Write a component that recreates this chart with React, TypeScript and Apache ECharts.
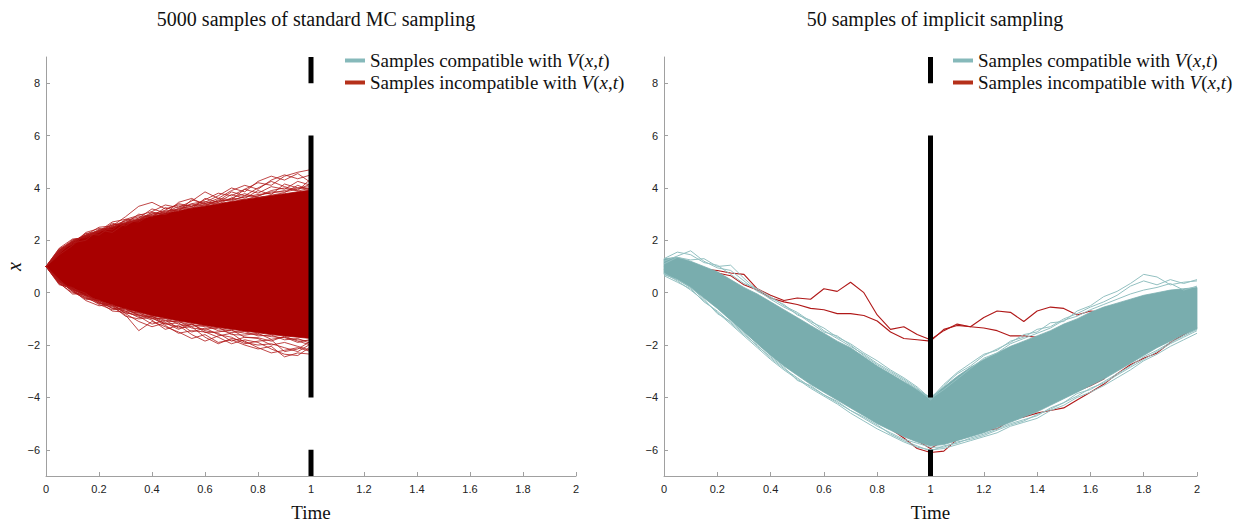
import React, { useEffect, useRef } from 'react';
import * as echarts from 'echarts';

const COMPAT = 'Samples compatible with V(x,t)';
const INCOMPAT = 'Samples incompatible with V(x,t)';

const LEFT_TITLE = '5000 samples of standard MC sampling';
const RIGHT_TITLE = '50 samples of implicit sampling';

const X_TICKS_MIN = 0;
const X_TICKS_MAX = 2;
const X_TICK_STEP = 0.2;
const Y_MIN = -7;
const Y_MAX = 9;
const Y_TICKS = [-6, -4, -2, 0, 2, 4, 6, 8];

// obstacle at t = 1 : [from, to] in x
const BAR_T = 1;
const BAR_SEGMENTS = [
  [9, 8],
  [6, -4],
  [-6, -7],
];

// time grids
const T1 = [0, 0.05, 0.1, 0.15, 0.2, 0.25, 0.3, 0.35, 0.4, 0.45, 0.5, 0.55, 0.6, 0.65, 0.7, 0.75, 0.8, 0.85, 0.9, 0.95, 1];
const T2 = [0, 0.05, 0.1, 0.15, 0.2, 0.25, 0.3, 0.35, 0.4, 0.45, 0.5, 0.55, 0.6, 0.65, 0.7, 0.75, 0.8, 0.85, 0.9, 0.95, 1,
  1.05, 1.1, 1.15, 1.2, 1.25, 1.3, 1.35, 1.4, 1.45, 1.5, 1.55, 1.6, 1.65, 1.7, 1.75, 1.8, 1.85, 1.9, 1.95, 2];

// ---- left panel: MC cloud (dense envelope) ----
const MC_HI = [1.0, 1.62, 1.95, 2.18, 2.36, 2.52, 2.67, 2.8, 2.92, 3.03, 3.13, 3.23, 3.31, 3.4, 3.48, 3.56, 3.64, 3.71, 3.78, 3.85, 3.92];
const MC_LO = [1.0, 0.42, 0.12, -0.12, -0.3, -0.47, -0.62, -0.75, -0.88, -0.98, -1.08, -1.16, -1.25, -1.33, -1.4, -1.47, -1.53, -1.6, -1.65, -1.7, -1.75];

// fringe paths of the MC cloud
const MC_UP_1 = [1.0, 1.55, 1.95, 2.2, 2.5, 2.55, 2.9, 3.3, 3.45, 3.2, 3.35, 3.3, 3.55, 3.8, 3.7, 3.95, 4.2, 4.1, 4.45, 4.6, 4.7];
const MC_UP_2 = [1.0, 1.7, 2.05, 2.1, 2.35, 2.7, 2.8, 2.95, 3.1, 3.35, 3.25, 3.5, 3.85, 3.6, 3.9, 4.1, 3.95, 4.3, 4.5, 4.35, 4.5];
const MC_UP_3 = [1.0, 1.45, 1.8, 2.25, 2.2, 2.55, 2.75, 2.7, 3.0, 3.15, 3.4, 3.3, 3.45, 3.7, 4.0, 3.85, 4.25, 4.45, 4.3, 4.55, 4.2];
const MC_UP_4 = [1.0, 1.6, 1.9, 2.0, 2.4, 2.3, 2.65, 3.0, 2.9, 3.25, 3.1, 3.55, 3.4, 3.6, 3.55, 3.95, 3.8, 4.05, 3.95, 4.25, 4.1];
const MC_UP_5 = [1.0, 1.5, 2.0, 2.15, 2.3, 2.65, 2.55, 2.85, 3.2, 3.05, 3.3, 3.2, 3.6, 3.45, 3.75, 3.6, 3.9, 3.75, 4.15, 4.0, 3.95];
const MC_UP_6 = [1.0, 1.65, 1.85, 2.3, 2.45, 2.4, 2.8, 2.75, 3.05, 3.0, 3.45, 3.6, 3.35, 3.5, 3.85, 3.7, 4.0, 4.25, 4.05, 3.9, 4.35];
const MC_UP_7 = [1.0, 1.58, 1.98, 2.18, 2.38, 2.5, 2.7, 2.85, 2.95, 3.1, 3.2, 3.3, 3.4, 3.5, 3.55, 3.65, 3.75, 3.8, 3.9, 4.0, 4.05];
const MC_UP_8 = [1.0, 1.68, 1.95, 2.2, 2.32, 2.58, 2.65, 2.8, 3.0, 3.05, 3.18, 3.25, 3.35, 3.45, 3.6, 3.55, 3.7, 3.85, 3.85, 3.95, 4.15];
const MC_UP_9 = [1.0, 1.63, 2.02, 2.14, 2.42, 2.48, 2.75, 2.9, 2.92, 3.12, 3.15, 3.38, 3.3, 3.55, 3.5, 3.7, 3.68, 3.9, 4.0, 3.88, 4.0];
const MC_UP_10 = [1.0, 1.52, 1.92, 2.26, 2.35, 2.6, 2.62, 2.78, 3.08, 2.98, 3.22, 3.4, 3.48, 3.38, 3.62, 3.78, 3.62, 3.72, 3.82, 4.1, 3.9];
const MC_DN_1 = [1.0, 0.4, 0.1, -0.2, -0.4, -0.55, -0.85, -1.45, -1.1, -1.3, -1.5, -1.75, -1.6, -1.9, -1.8, -2.0, -2.15, -2.05, -2.45, -2.3, -2.35];
const MC_DN_2 = [1.0, 0.35, 0.0, -0.1, -0.35, -0.7, -0.75, -0.9, -1.2, -1.05, -1.35, -1.3, -1.7, -1.95, -1.75, -1.85, -2.1, -2.3, -2.2, -2.1, -2.25];
const MC_DN_3 = [1.0, 0.5, 0.05, -0.25, -0.3, -0.5, -0.9, -1.0, -0.95, -1.25, -1.55, -1.45, -1.5, -1.7, -1.95, -1.8, -1.9, -2.15, -2.35, -2.4, -2.05];
const MC_DN_4 = [1.0, 0.3, 0.2, -0.15, -0.45, -0.65, -0.6, -0.85, -1.05, -1.4, -1.25, -1.6, -1.85, -1.65, -1.55, -1.9, -2.0, -1.95, -2.1, -2.25, -1.95];
const MC_DN_5 = [1.0, 0.45, 0.1, -0.3, -0.5, -0.45, -0.8, -1.1, -1.3, -1.15, -1.4, -1.2, -1.45, -1.55, -1.85, -1.7, -1.75, -2.0, -1.9, -2.05, -2.2];
const MC_DN_6 = [1.0, 0.38, -0.05, -0.05, -0.35, -0.6, -0.7, -0.95, -0.9, -1.2, -1.15, -1.5, -1.35, -1.6, -1.7, -1.95, -1.85, -1.8, -2.25, -2.15, -1.85];
const MC_DN_7 = [1.0, 0.42, 0.08, -0.18, -0.32, -0.52, -0.66, -0.8, -0.92, -1.05, -1.12, -1.22, -1.3, -1.38, -1.45, -1.55, -1.6, -1.68, -1.72, -1.8, -1.85];
const MC_DN_8 = [1.0, 0.36, 0.12, -0.12, -0.38, -0.48, -0.72, -0.76, -1.0, -0.98, -1.2, -1.28, -1.25, -1.45, -1.52, -1.48, -1.65, -1.62, -1.8, -1.75, -1.95];
const MC_DN_9 = [1.0, 0.46, 0.04, -0.22, -0.28, -0.6, -0.62, -0.88, -0.9, -1.12, -1.08, -1.35, -1.4, -1.32, -1.6, -1.62, -1.55, -1.78, -1.7, -1.9, -1.78];
const MC_DN_10 = [1.0, 0.33, 0.16, -0.02, -0.42, -0.45, -0.78, -0.84, -0.98, -1.18, -1.3, -1.18, -1.52, -1.5, -1.42, -1.7, -1.72, -1.85, -1.66, -1.85, -2.0];

// ---- right panel: implicit sampling band ----
const IS_HI = [1.3, 1.35, 1.2, 1.0, 0.8, 0.5, 0.2, -0.05, -0.35, -0.65, -0.95, -1.25, -1.55, -1.85, -2.1, -2.45, -2.8, -3.1, -3.4, -3.7, -4.0,
  -3.6, -3.2, -2.85, -2.55, -2.3, -2.05, -1.85, -1.65, -1.45, -1.2, -1.0, -0.75, -0.55, -0.4, -0.25, -0.1, 0.0, 0.1, 0.15, 0.2];
const IS_LO = [0.7, 0.5, 0.2, -0.2, -0.6, -1.05, -1.5, -1.95, -2.4, -2.8, -3.15, -3.5, -3.8, -4.1, -4.4, -4.7, -5.0, -5.25, -5.5, -5.7, -5.85,
  -5.8, -5.65, -5.5, -5.35, -5.15, -4.95, -4.75, -4.55, -4.3, -4.05, -3.8, -3.55, -3.3, -3.0, -2.7, -2.4, -2.1, -1.85, -1.6, -1.4];

const IS_UP_1 = [1.3, 1.55, 1.45, 1.15, 1.05, 0.7, 0.35, 0.15, -0.15, -0.5, -0.75, -1.1, -1.35, -1.7, -1.95, -2.3, -2.6, -2.95, -3.25, -3.6, -4.05,
  -3.5, -3.05, -2.7, -2.35, -2.2, -1.85, -1.7, -1.4, -1.3, -1.0, -0.8, -0.55, -0.35, -0.1, 0.25, 0.45, 0.3, 0.5, 0.35, 0.5];
const IS_UP_2 = [1.2, 1.4, 1.6, 1.2, 0.95, 0.85, 0.45, 0.05, -0.2, -0.45, -0.85, -1.05, -1.45, -1.75, -2.05, -2.35, -2.7, -3.0, -3.3, -3.65, -4.1,
  -3.55, -3.1, -2.8, -2.4, -2.15, -1.9, -1.6, -1.5, -1.15, -1.1, -0.7, -0.5, -0.15, 0.05, 0.35, 0.7, 0.6, 0.3, 0.4, 0.45];
const IS_UP_3 = [1.1, 1.35, 1.25, 1.3, 1.0, 1.05, 0.55, 0.1, -0.25, -0.55, -0.8, -1.15, -1.5, -1.65, -2.0, -2.4, -2.75, -3.05, -3.35, -3.7, -4.05,
  -3.7, -3.3, -2.9, -2.5, -2.3, -1.95, -1.75, -1.55, -1.35, -1.05, -0.9, -0.65, -0.45, -0.25, -0.05, 0.1, 0.2, 0.35, 0.1, 0.25];
const IS_DN_1 = [0.75, 0.45, 0.1, -0.3, -0.75, -1.2, -1.65, -2.1, -2.55, -2.95, -3.3, -3.65, -3.95, -4.25, -4.6, -4.9, -5.2, -5.45, -5.7, -5.9, -6.0,
  -5.95, -5.8, -5.65, -5.5, -5.35, -5.1, -4.95, -4.8, -4.5, -4.3, -4.0, -3.8, -3.55, -3.25, -2.95, -2.6, -2.35, -2.05, -1.8, -1.55];
const IS_DN_2 = [0.65, 0.4, 0.15, -0.35, -0.7, -1.15, -1.6, -2.0, -2.5, -2.9, -3.25, -3.6, -3.9, -4.2, -4.5, -4.8, -5.1, -5.35, -5.6, -5.75, -5.9,
  -5.9, -5.7, -5.6, -5.45, -5.25, -5.05, -4.9, -4.65, -4.45, -4.2, -3.95, -3.65, -3.45, -3.15, -2.85, -2.55, -2.25, -1.95, -1.7, -1.45];
const IS_DN_3 = [0.7, 0.5, 0.2, -0.25, -0.8, -1.1, -1.55, -2.05, -2.45, -2.85, -3.35, -3.55, -3.9, -4.15, -4.5, -4.75, -5.05, -5.4, -5.65, -5.85, -6.05,
  -5.85, -5.75, -5.55, -5.4, -5.2, -5.0, -4.85, -4.7, -4.4, -4.2, -3.85, -3.7, -3.4, -3.1, -2.8, -2.45, -2.2, -1.9, -1.65, -1.4];

// incompatible implicit samples (red)
const RED_A = [1.2, 1.15, 1.0, 0.9, 0.85, 0.75, 0.7, 0.15, -0.1, -0.3, -0.2, -0.25, 0.15, 0.05, 0.4, 0.0, -0.85, -1.4, -1.3, -1.6, -1.8,
  -1.45, -1.2, -1.3, -0.95, -0.7, -0.75, -1.1, -0.7, -0.55, -0.6, -0.85, -0.7, -0.75, -0.5, -0.3, -0.2, -0.1, -0.05, 0.05, 0.1];
const RED_B = [1.1, 1.2, 1.0, 0.85, 0.75, 0.65, 0.3, 0.1, -0.2, -0.35, -0.45, -0.6, -0.65, -0.8, -0.8, -0.87, -1.08, -1.5, -1.75, -1.8, -1.85,
  -1.4, -1.25, -1.3, -1.35, -1.45, -1.65, -1.65, -1.7, -1.75, -1.7, -1.65, -1.5, -1.3, -1.15, -0.95, -0.7, -0.6, -0.45, -0.3, -0.25];
const RED_C = [1.0, 0.8, 0.5, 0.1, -0.35, -0.8, -1.2, -1.6, -2.1, -2.55, -2.9, -3.1, -3.3, -3.55, -3.95, -4.45, -4.85, -5.2, -5.55, -5.95, -6.1,
  -6.05, -5.6, -5.3, -5.25, -5.2, -4.85, -4.4, -4.35, -4.1, -3.9, -3.75, -3.55, -3.3, -2.6, -2.0, -1.9, -1.6, -1.35, -1.05, -0.9];
const RED_D = [0.9, 0.7, 0.45, 0.0, -0.4, -0.9, -1.35, -1.8, -2.25, -2.6, -2.9, -3.15, -3.0, -3.3, -3.55, -3.95, -4.35, -4.8, -5.25, -5.65, -5.95,
  -5.65, -5.3, -4.6, -4.55, -4.65, -4.7, -4.75, -4.6, -4.5, -4.4, -4.1, -3.8, -3.5, -3.1, -2.75, -2.5, -2.3, -1.9, -1.6, -1.3];

const RED_DENSE = '#a80000';
const RED_LINE = '#b01818';
const RED_LEGEND = '#b5301a';
const TEAL = '#79adae';
const TEAL_LINE = '#93c0c1';
const TEAL_LEGEND = '#86b9ba';
const AXIS_GRAY = '#a0a0a0';
const SERIF = '"Liberation Serif", "DejaVu Serif", serif';
const SANS = '"Liberation Sans", Arial, sans-serif';

function pairs(ts: number[], vs: number[]) {
  return ts.map((t, i) => [t, vs[i]]);
}

function band(name: string, ts: number[], hi: number[], lo: number[], color: string, axis: number) {
  return {
    type: 'custom',
    name,
    xAxisIndex: axis,
    yAxisIndex: axis,
    silent: true,
    z: 2,
    itemStyle: { color },
    data: [[ts[0], hi[0]]],
    renderItem: (_p: any, api: any) => {
      const pts: number[][] = [];
      for (let i = 0; i < ts.length; i++) pts.push(api.coord([ts[i], hi[i]]));
      for (let i = ts.length - 1; i >= 0; i--) pts.push(api.coord([ts[i], lo[i]]));
      return { type: 'polygon', shape: { points: pts }, style: { fill: color, stroke: color, lineWidth: 0.8 } };
    },
  };
}

function path(name: string, ts: number[], vs: number[], color: string, axis: number, width = 0.8, z = 3) {
  return {
    type: 'line',
    name,
    xAxisIndex: axis,
    yAxisIndex: axis,
    silent: true,
    showSymbol: false,
    symbol: 'none',
    z,
    lineStyle: { color, width },
    data: pairs(ts, vs),
  };
}

function bars(axis: number) {
  return BAR_SEGMENTS.map((seg, i) => ({
    type: 'line',
    name: 'obstacle' + axis + '_' + i,
    xAxisIndex: axis,
    yAxisIndex: axis,
    silent: true,
    showSymbol: false,
    symbol: 'none',
    z: 10,
    lineStyle: { color: '#000', width: 5, cap: 'butt' },
    data: [[BAR_T, seg[0]], [BAR_T, seg[1]]],
  }));
}

function xAxis(grid: number) {
  return {
    type: 'value',
    gridIndex: grid,
    min: X_TICKS_MIN,
    max: X_TICKS_MAX,
    interval: X_TICK_STEP,
    name: 'Time',
    nameLocation: 'middle',
    nameGap: 27,
    nameTextStyle: { fontFamily: SERIF, fontSize: 19, color: '#111' },
    axisLine: { show: true, onZero: false, lineStyle: { color: AXIS_GRAY, width: 1 } },
    axisTick: { show: true, inside: true, length: 4, lineStyle: { color: AXIS_GRAY } },
    axisLabel: { fontFamily: SANS, fontSize: 11, color: '#222', margin: 7 },
    splitLine: { show: false },
  };
}

function yAxis(grid: number, withName: boolean) {
  return {
    type: 'value',
    gridIndex: grid,
    min: Y_MIN,
    max: Y_MAX,
    name: withName ? 'x' : '',
    nameLocation: 'middle',
    nameGap: 22,
    nameRotate: 90,
    nameTextStyle: { fontFamily: SERIF, fontSize: 20, fontStyle: 'italic', color: '#111' },
    axisLine: { show: true, onZero: false, lineStyle: { color: AXIS_GRAY, width: 1 } },
    axisTick: { show: true, inside: true, length: 4, customValues: Y_TICKS, lineStyle: { color: AXIS_GRAY } },
    axisLabel: {
      fontFamily: SANS, fontSize: 11, color: '#222', margin: 6, customValues: Y_TICKS,
      formatter: (v: number) => (v < 0 ? '\u2212' + Math.abs(v) : String(v)),
    },
    splitLine: { show: false },
  };
}

function legend(left: number) {
  return {
    orient: 'vertical',
    left,
    top: 46,
    itemGap: 3,
    itemWidth: 20,
    itemHeight: 4,
    icon: 'rect',
    selectedMode: false,
    data: [
      { name: COMPAT, itemStyle: { color: TEAL_LEGEND } },
      { name: INCOMPAT, itemStyle: { color: RED_LEGEND } },
    ],
    formatter: (name: string) => name.replace('V(x,t)', '{i|V}({i|x},{i|t})'),
    textStyle: {
      fontFamily: SERIF, fontSize: 19, color: '#111',
      rich: { i: { fontFamily: SERIF, fontSize: 19, fontStyle: 'italic', color: '#111' } },
    },
  };
}

const MC_UPS = [MC_UP_1, MC_UP_2, MC_UP_3, MC_UP_4, MC_UP_5, MC_UP_6, MC_UP_7, MC_UP_8, MC_UP_9, MC_UP_10];
const MC_DNS = [MC_DN_1, MC_DN_2, MC_DN_3, MC_DN_4, MC_DN_5, MC_DN_6, MC_DN_7, MC_DN_8, MC_DN_9, MC_DN_10];
const IS_UPS = [IS_UP_1, IS_UP_2, IS_UP_3];
const IS_DNS = [IS_DN_1, IS_DN_2, IS_DN_3];
const REDS = [RED_A, RED_B, RED_C, RED_D];

export default function App() {
  const ref = useRef<HTMLDivElement>(null);
  useEffect(() => {
    const chart = echarts.init(ref.current!, null, { renderer: 'svg' });
    const series: any[] = [];
    // left panel
    series.push(band(INCOMPAT, T1, MC_HI, MC_LO, RED_DENSE, 0));
    MC_UPS.forEach((v, i) => series.push(path('mc_up_' + i, T1, v, RED_LINE, 0)));
    MC_DNS.forEach((v, i) => series.push(path('mc_dn_' + i, T1, v, RED_LINE, 0)));
    series.push(...bars(0));
    // right panel
    REDS.forEach((v, i) => series.push(path('is_red_' + i, T2, v, RED_LINE, 1, 1.1, 1)));
    series.push(band(COMPAT, T2, IS_HI, IS_LO, TEAL, 1));
    IS_UPS.forEach((v, i) => series.push(path('is_up_' + i, T2, v, TEAL_LINE, 1, 1)));
    IS_DNS.forEach((v, i) => series.push(path('is_dn_' + i, T2, v, TEAL_LINE, 1, 1)));
    series.push(...bars(1));

    chart.setOption({
      animation: false,
      backgroundColor: '#fff',
      title: [
        { text: LEFT_TITLE, left: 311, top: 4, textAlign: 'center', textStyle: { fontFamily: SERIF, fontSize: 20, fontWeight: 'normal', color: '#111' } },
        { text: RIGHT_TITLE, left: 930, top: 4, textAlign: 'center', textStyle: { fontFamily: SERIF, fontSize: 20, fontWeight: 'normal', color: '#111' } },
      ],
      legend: [legend(340), legend(948)],
      grid: [
        { left: 46, right: 671, top: 57, bottom: 46, outerBoundsMode: 'none' },
        { left: 664, right: 50, top: 57, bottom: 46, outerBoundsMode: 'none' },
      ],
      xAxis: [xAxis(0), xAxis(1)],
      yAxis: [yAxis(0, true), yAxis(1, false)],
      series,
    });
    return () => chart.dispose();
  }, []);
  return <div ref={ref} style={{ position: 'fixed', left: 0, top: 0, width: 1247, height: 522, background: '#fff' }} />;
}
